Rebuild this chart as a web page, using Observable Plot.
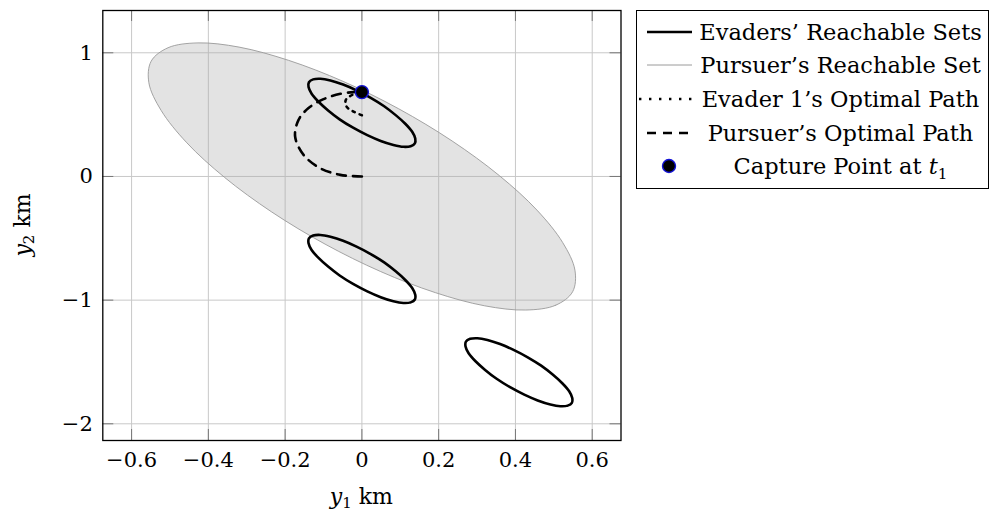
<!DOCTYPE html>
<html><head><meta charset="utf-8">
<script src="https://cdn.jsdelivr.net/npm/d3@7"></script>
<script src="https://cdn.jsdelivr.net/npm/@observablehq/plot@0.6"></script>
<style>
body{margin:0;background:#fff;font-family:"DejaVu Serif",serif;}
#wrap{position:relative;width:1002px;height:517px;overflow:hidden;background:#fff}
#wrap > svg{position:absolute;left:0;top:0}
.lab{position:absolute;font-size:22px;white-space:nowrap;color:#000;line-height:1}
sub{font-size:0.68em;vertical-align:-0.3em;line-height:0}
#legend{position:absolute;left:636px;top:10px;width:353px;height:179px;border:1px solid #000;box-sizing:border-box;background:#fff}
.row{position:absolute;left:0;width:100%;height:34px}
.row svg{position:absolute;left:0;top:0}
.txt{position:absolute;left:60px;right:4px;top:0;text-align:center;font-size:22.5px;line-height:34px;white-space:nowrap}
</style></head><body><div id="wrap"></div>
<script>
// Tick values
const xTicks = [-0.6, -0.4, -0.2, 0, 0.2, 0.4, 0.6];
const yTicks = [-2, -1, 0, 1];

// Pursuer's reachable set (outline)
const pursuerSetX = [0.549,0.505,0.427,0.320,0.191,0.049,-0.096,-0.235,-0.358,-0.456,-0.523,-0.555,-0.549,-0.505,-0.427,-0.320,-0.191,-0.049,0.096,0.235,0.358,0.456,0.523,0.555];
const pursuerSetY = [-0.932,-1.041,-1.080,-1.046,-0.939,-0.769,-0.547,-0.287,-0.007,0.272,0.534,0.758,0.932,1.041,1.080,1.046,0.939,0.769,0.547,0.287,0.007,-0.272,-0.534,-0.758];

// Evaders' reachable sets (outlines)
const evader1X = [0.138,0.127,0.108,0.082,0.049,0.014,-0.023,-0.058,-0.088,-0.113,-0.131,-0.139,-0.138,-0.127,-0.108,-0.082,-0.049,-0.014,0.023,0.058,0.088,0.113,0.131,0.139];
const evader1Y = [0.268,0.245,0.240,0.255,0.287,0.334,0.394,0.462,0.534,0.604,0.669,0.723,0.762,0.785,0.790,0.776,0.743,0.696,0.636,0.568,0.496,0.426,0.361,0.307];
const evader2X = [0.138,0.127,0.108,0.082,0.049,0.014,-0.023,-0.058,-0.088,-0.113,-0.131,-0.139,-0.138,-0.127,-0.108,-0.082,-0.049,-0.014,0.023,0.058,0.088,0.113,0.131,0.139];
const evader2Y = [-0.995,-1.018,-1.023,-1.009,-0.976,-0.929,-0.869,-0.801,-0.729,-0.659,-0.594,-0.540,-0.501,-0.478,-0.473,-0.488,-0.520,-0.567,-0.627,-0.695,-0.767,-0.837,-0.902,-0.956];
const evader3X = [0.547,0.536,0.517,0.491,0.458,0.423,0.386,0.351,0.321,0.296,0.278,0.270,0.271,0.282,0.301,0.327,0.360,0.395,0.432,0.467,0.497,0.522,0.540,0.548];
const evader3Y = [-1.830,-1.853,-1.858,-1.844,-1.811,-1.764,-1.704,-1.636,-1.564,-1.494,-1.429,-1.375,-1.336,-1.313,-1.308,-1.322,-1.355,-1.402,-1.462,-1.530,-1.602,-1.672,-1.737,-1.791];

// Optimal paths
const pursuerPathX = [0,-0.056,-0.109,-0.152,-0.174,-0.165,-0.139,-0.100,-0.056,-0.022,0];
const pursuerPathY = [0,0.013,0.067,0.175,0.323,0.458,0.553,0.625,0.668,0.682,0.682];
const evaderPathX = [0,-0.022,-0.040,-0.042,-0.025,0];
const evaderPathY = [0.495,0.525,0.565,0.618,0.660,0.682];

// Capture point
const captureX = [0];
const captureY = [0.682];

const zip = (xs, ys, extra = {}) => xs.map((x, i) => ({x, y: ys[i], ...extra}));
const pursuerSet = zip(pursuerSetX, pursuerSetY);
const evaders = [
  ...zip(evader1X, evader1Y, {set: "E1"}),
  ...zip(evader2X, evader2Y, {set: "E2"}),
  ...zip(evader3X, evader3Y, {set: "E3"})
];
const pursuerPath = zip(pursuerPathX, pursuerPathY);
const evaderPath = zip(evaderPathX, evaderPathY);
const capture = zip(captureX, captureY);

const W = 1002, H = 517, mL = 102.3, mR = 381.5, mT = 10, mB = 77;
const tickLen = 11;
const innerW = W - mL - mR, innerH = H - mT - mB;
const fmt = d => (d < 0 ? "\u2212" : "") + String(Math.abs(d));

const chart = Plot.plot({
  width: W, height: H,
  marginLeft: mL, marginRight: mR, marginTop: mT, marginBottom: mB,
  x: {domain: [-0.675, 0.675]},
  y: {domain: [-2.135, 1.342]},
  style: {fontFamily: "DejaVu Serif", fontSize: "21px", background: "white", color: "black"},
  marks: [
    Plot.gridX(xTicks, {stroke: "#c8c8c8", strokeOpacity: 1}),
    Plot.gridY(yTicks, {stroke: "#c8c8c8", strokeOpacity: 1}),
    Plot.line(pursuerSet, {x: "x", y: "y", curve: "catmull-rom-closed", fill: "#aaa", fillOpacity: 0.33, stroke: "#9a9a9a", strokeWidth: 0.9}),
    Plot.ruleX(xTicks, {insetTop: innerH - tickLen, stroke: "#777"}),
    Plot.ruleX(xTicks, {insetBottom: innerH - tickLen, stroke: "#777"}),
    Plot.ruleY(yTicks, {insetRight: innerW - tickLen, stroke: "#777"}),
    Plot.ruleY(yTicks, {insetLeft: innerW - tickLen, stroke: "#777"}),
    Plot.frame({stroke: "black", strokeWidth: 1.3}),
    Plot.axisX(xTicks, {tickSize: 0, tickPadding: 12, label: null, fontSize: 21, tickFormat: fmt}),
    Plot.axisY(yTicks, {tickSize: 0, tickPadding: 10, label: null, fontSize: 21, tickFormat: fmt}),
    Plot.line(evaders, {x: "x", y: "y", z: "set", curve: "catmull-rom-closed", stroke: "black", strokeWidth: 2.6}),
    Plot.line(pursuerPath, {x: "x", y: "y", curve: "catmull-rom", stroke: "black", strokeWidth: 2.6, strokeDasharray: "9 7"}),
    Plot.line(evaderPath, {x: "x", y: "y", curve: "catmull-rom", stroke: "black", strokeWidth: 2.6, strokeDasharray: "2.6 5"}),
    Plot.dot(capture, {x: "x", y: "y", r: 6.5, fill: "black", stroke: "#1414d8", strokeWidth: 1.4})
  ]
});

const wrap = document.getElementById("wrap");
wrap.appendChild(chart);

// Axis labels
const xl = document.createElement("div");
xl.className = "lab";
xl.innerHTML = '<i>y</i><sub>1</sub> km';
wrap.appendChild(xl);
const yl = document.createElement("div");
yl.className = "lab";
yl.innerHTML = '<i>y</i><sub>2</sub> km';
wrap.appendChild(yl);
{
  const r = xl.getBoundingClientRect();
  xl.style.left = (mL + innerW / 2 - r.width / 2) + "px";
  xl.style.top = (497 - r.height / 2) + "px";
  const r2 = yl.getBoundingClientRect();
  yl.style.left = (23 - r2.width / 2) + "px";
  yl.style.top = (mT + innerH / 2 - r2.height / 2) + "px";
  yl.style.transform = "rotate(-90deg)";
}

// Legend
const legendItems = [
  {label: "Evaders’ Reachable Sets", kind: "solid"},
  {label: "Pursuer’s Reachable Set", kind: "grey"},
  {label: "Evader 1’s Optimal Path", kind: "dotted"},
  {label: "Pursuer’s Optimal Path", kind: "dashed"},
  {label: 'Capture Point at <i>t</i><sub>1</sub>', kind: "dot"}
];
const legend = document.createElement("div");
legend.id = "legend";
legendItems.forEach((it, i) => {
  const row = document.createElement("div");
  row.className = "row";
  row.style.top = (3.5 + i * 33.7) + "px";
  let sw = "";
  if (it.kind === "solid") sw = '<line x1="10" x2="55" y1="17" y2="17" stroke="black" stroke-width="2.6"/>';
  if (it.kind === "grey") sw = '<line x1="10" x2="55" y1="17" y2="17" stroke="#9a9a9a" stroke-width="1"/>';
  if (it.kind === "dotted") sw = '<line x1="2" x2="55" y1="17" y2="17" stroke="black" stroke-width="2.4" stroke-dasharray="2.4 7.6"/>';
  if (it.kind === "dashed") sw = '<line x1="10" x2="55" y1="17" y2="17" stroke="black" stroke-width="2.6" stroke-dasharray="9 7"/>';
  if (it.kind === "dot") sw = '<circle cx="32" cy="17" r="6.5" fill="black" stroke="#1414d8" stroke-width="1.4"/>';
  row.innerHTML = '<svg width="60" height="34">' + sw + '</svg><div class="txt">' + it.label + '</div>';
  legend.appendChild(row);
});
wrap.appendChild(legend);
</script></body></html>
